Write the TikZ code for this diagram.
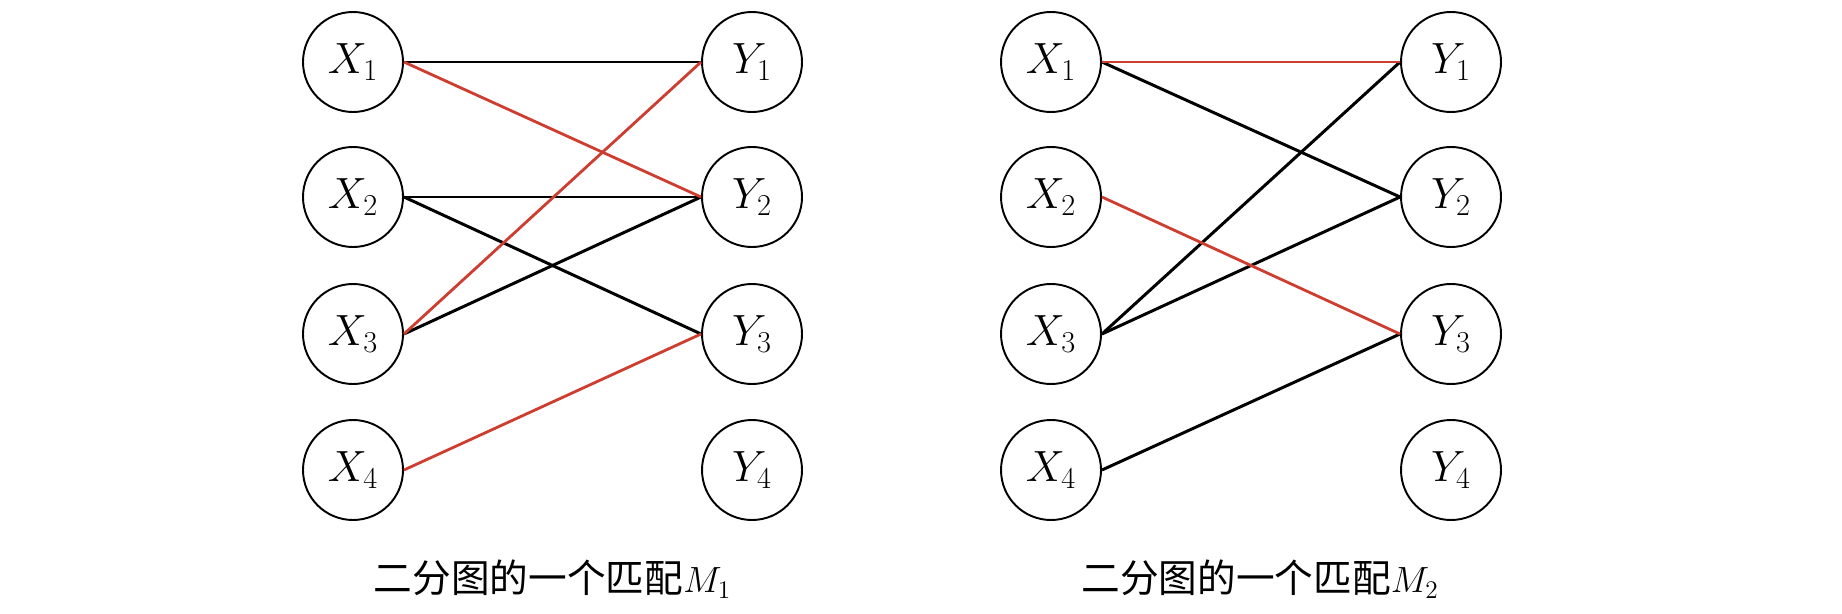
\documentclass[tikz,border=0pt]{standalone}
\usepackage{fontspec}
\newfontfamily\cjk{Noto Sans CJK SC}
\definecolor{matchred}{RGB}{205,62,48}
\tikzset{
	vert/.style={draw, circle, line width=1.1pt, minimum size=2cm, inner sep=0pt, font=\fontsize{23}{27}\selectfont},
	edge/.style={line width=1.7pt},
	medge/.style={line width=1.6pt, matchred},
	capt/.style={font=\cjk\fontsize{22}{26}\selectfont}
}
\begin{document}
\begin{tikzpicture}
	\useasboundingbox (0, 0) rectangle (36.84, 12.26);
	% first graph
		\node[vert] (lx1) at(7.06, 11.02){$X_1$};
		\node[vert] (lx2) at(7.06, 8.32){$X_2$};
		\node[vert] (lx3) at(7.06, 5.58){$X_3$};
		\node[vert] (lx4) at(7.06, 2.86){$X_4$};
		\node[vert] (ly1) at(15.04, 11.02){$Y_1$};
		\node[vert] (ly2) at(15.04, 8.32){$Y_2$};
		\node[vert] (ly3) at(15.04, 5.58){$Y_3$};
		\node[vert] (ly4) at(15.04, 2.86){$Y_4$};

			\draw[edge](lx1.east) to (ly1.west);
			\draw[edge](lx2.east) to (ly2.west);
			\draw[edge](lx2.east) to (ly3.west);
			\draw[edge](lx3.east) to (ly2.west);
			\draw[medge](lx1.east) to (ly2.west);
			\draw[medge](lx3.east) to (ly1.west);
			\draw[medge](lx4.east) to (ly3.west);

		\node[capt] (lcap) at(11.05, 0.68){二分图的一个匹配$M_1$};

	% second graph
		\node[vert] (rx1) at(21.02, 11.02){$X_1$};
		\node[vert] (rx2) at(21.02, 8.32){$X_2$};
		\node[vert] (rx3) at(21.02, 5.58){$X_3$};
		\node[vert] (rx4) at(21.02, 2.86){$X_4$};
		\node[vert] (ry1) at(29.02, 11.02){$Y_1$};
		\node[vert] (ry2) at(29.02, 8.32){$Y_2$};
		\node[vert] (ry3) at(29.02, 5.58){$Y_3$};
		\node[vert] (ry4) at(29.02, 2.86){$Y_4$};

			\draw[edge](rx1.east) to (ry2.west);
			\draw[edge](rx3.east) to (ry1.west);
			\draw[edge](rx3.east) to (ry2.west);
			\draw[edge](rx4.east) to (ry3.west);
			\draw[medge](rx1.east) to (ry1.west);
			\draw[medge](rx2.east) to (ry3.west);

		\node[capt] (rcap) at(25.2, 0.68){二分图的一个匹配$M_2$};
\end{tikzpicture}
\end{document}
